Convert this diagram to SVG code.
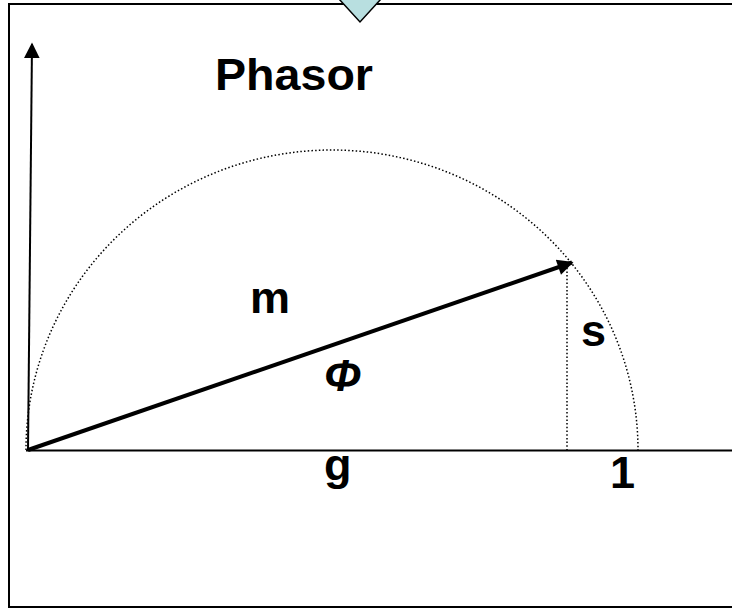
<svg xmlns="http://www.w3.org/2000/svg" width="732" height="609" viewBox="0 0 732 609">
<defs>
<style>
.lbl{font-family:"Liberation Sans",Arial,sans-serif;font-weight:bold;font-size:45px;fill:#000}
.dot{fill:none;stroke:#000;stroke-width:1.5;stroke-dasharray:1.5 2.2}
</style>
<marker id="ah" viewBox="0 0 10 10" refX="9" refY="5" markerWidth="5" markerHeight="4" markerUnits="strokeWidth" orient="auto">
<path d="M0,0 L10,5 L0,10 Z" fill="#000"/>
</marker>
<marker id="ah2" viewBox="0 0 10 10" refX="9" refY="5" markerWidth="8" markerHeight="8" markerUnits="strokeWidth" orient="auto">
<path d="M0,0 L10,5 L0,10 Z" fill="#000"/>
</marker>
</defs>
<rect width="732" height="609" fill="#fff"/>
<g id="frame">
<rect x="9" y="4" width="740" height="603" fill="none" stroke="#000" stroke-width="2"/>
</g>
<g id="tab">
<polygon points="329,-12 391,-12 360,22" fill="#b8dfe0" stroke="#000" stroke-width="1.5"/>
</g>
<g id="circle">
<path class="dot" d="M26,450 A306,300 0 0 1 638,450"/>
</g>
<g id="connectors">
<line x1="28" y1="450" x2="32" y2="44" stroke="#000" stroke-width="2" marker-end="url(#ah2)"/>
<line x1="26" y1="450.5" x2="732" y2="450.5" stroke="#000" stroke-width="2"/>
<line class="dot" x1="567" y1="264" x2="567" y2="450"/>
<line x1="28" y1="450" x2="572" y2="262.5" stroke="#000" stroke-width="4" marker-end="url(#ah)"/>
</g>
<g id="labels">
<text class="lbl" x="215" y="90" font-size="46" textLength="158" lengthAdjust="spacingAndGlyphs">Phasor</text>
<text class="lbl" x="250" y="313">m</text>
<text class="lbl" x="581" y="346">s</text>
<text class="lbl" x="324" y="480">g</text>
<text class="lbl" x="610" y="488">1</text>
<text class="lbl" x="324" y="391" font-style="italic" font-size="46">Φ</text>
</g>
</svg>
